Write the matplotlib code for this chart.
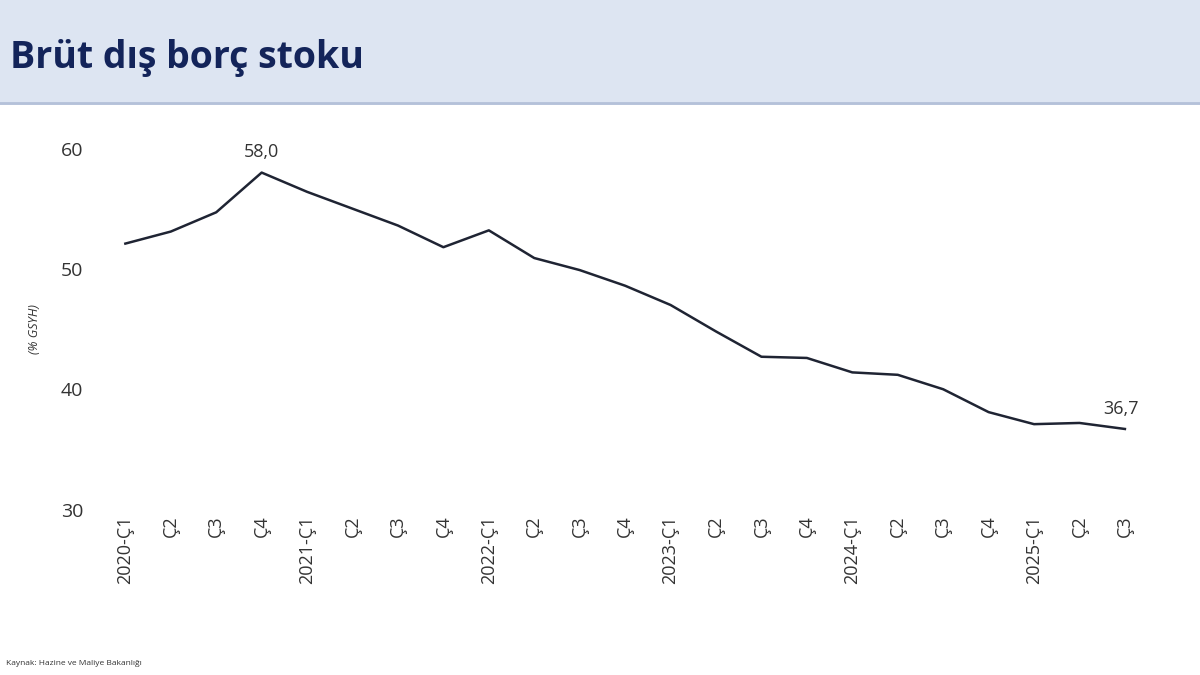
import matplotlib.pyplot as plt

plt.rcParams["font.family"] = ["Open Sans", "DejaVu Sans"]

# quarterly data, % of GDP
labels = ["2020-Ç1", "Ç2", "Ç3", "Ç4",
          "2021-Ç1", "Ç2", "Ç3", "Ç4",
          "2022-Ç1", "Ç2", "Ç3", "Ç4",
          "2023-Ç1", "Ç2", "Ç3", "Ç4",
          "2024-Ç1", "Ç2", "Ç3", "Ç4",
          "2025-Ç1", "Ç2", "Ç3"]
values = [52.1, 53.1, 54.7, 58.0,
          56.4, 55.0, 53.6, 51.8,
          53.2, 50.9, 49.9, 48.6,
          47.0, 44.8, 42.7, 42.6,
          41.4, 41.2, 40.0, 38.1,
          37.1, 37.2, 36.7]

fig = plt.figure(figsize=(12, 6.75), dpi=100)

# header band
band = fig.add_axes([0, 0.845, 1, 0.155])
band.set_xlim(0, 1)
band.set_ylim(0, 1)
band.axis("off")
band.axhspan(0, 1, color="#dde5f2")
band.axhline(0.02, color="#b4c1d9", lw=2)
band.text(0.008, 0.45, "Brüt dış borç stoku", fontsize=27, fontweight="bold",
          color="#13245a", va="center")

ax = fig.add_axes([0.095, 0.245, 0.85, 0.535])
x = range(len(values))
ax.plot(x, values, color="#1f2433", lw=1.8)
ax.set_xlim(-0.25, 22.2)
ax.set_ylim(30, 60)
ax.set_yticks([30, 40, 50, 60])
ax.set_xticks(list(x))
ax.set_xticklabels(labels, rotation=90, fontsize=13, color="#333333")
ax.tick_params(axis="y", labelsize=14, colors="#333333", length=0, pad=22)
ax.tick_params(axis="x", length=0, pad=4)
for s in ax.spines.values():
    s.set_visible(False)
ax.set_ylabel("(% GSYH)", fontsize=9, style="italic", color="#333333", labelpad=14)

ax.annotate("58,0", (3, values[3]), xytext=(0, 8), textcoords="offset points",
            ha="center", va="bottom", fontsize=13, color="#333333")
ax.annotate("36,7", (22, values[22]), xytext=(-3, 8), textcoords="offset points",
            ha="center", va="bottom", fontsize=13, color="#333333")

fig.text(0.005, 0.015, "Kaynak: Hazine ve Maliye Bakanlığı", fontsize=6, color="#333333")

fig.savefig("out.png", dpi=100, facecolor="white")
